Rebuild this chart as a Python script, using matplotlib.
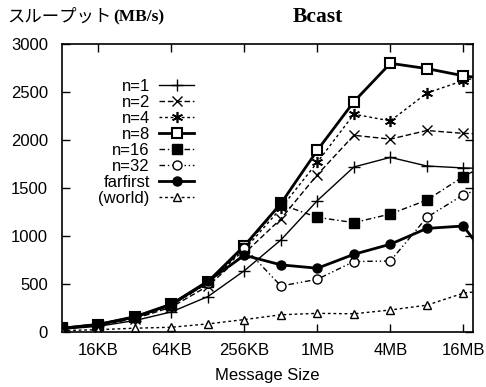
import numpy as np
import matplotlib
matplotlib.use('Agg')
import matplotlib.pyplot as plt

# message sizes in KB (last point lies just past the right edge)
sizes_kb = [8, 16, 32, 64, 128, 256, 512, 1024, 2048, 4096, 8192, 16384, 32768]

n1 = [30, 60, 120, 210, 370, 640, 960, 1370, 1720, 1820, 1730, 1710, 1700]
n2 = [33, 70, 140, 260, 480, 820, 1180, 1640, 2050, 2010, 2100, 2070, 2060]
n4 = [35, 75, 150, 280, 510, 860, 1290, 1770, 2270, 2200, 2490, 2620, 2700]
n8 = [38, 78, 155, 290, 525, 900, 1340, 1895, 2400, 2800, 2745, 2670, 2620]
n16 = [38, 78, 155, 285, 520, 880, 1330, 1195, 1140, 1230, 1375, 1620, 1820]
n32 = [36, 75, 150, 280, 510, 880, 480, 550, 735, 740, 1195, 1430, 1560]
farfirst = [40, 80, 160, 290, 530, 800, 700, 665, 810, 915, 1080, 1105, 600]
world = [15, 25, 40, 50, 85, 130, 180, 195, 190, 230, 280, 405, 450]

tick_kb = [16, 64, 256, 1024, 4096, 16384]
tick_labels = ['16KB', '64KB', '256KB', '1MB', '4MB', '16MB']

plt.rcParams['font.family'] = ['Liberation Sans', 'DejaVu Sans']

fig = plt.figure(figsize=(4.86, 3.87), dpi=100)
ax = fig.add_axes([0.1276, 0.142, 0.845, 0.744])

series = [
    ('n=1', n1, dict(ls='-', lw=1.0, marker='+', ms=8, mew=1.0, mfc='none')),
    ('n=2', n2, dict(ls=(0, (4, 2)), lw=1.0, marker='x', ms=7, mew=1.0, mfc='none')),
    ('n=4', n4, dict(ls=(0, (2, 2)), lw=1.0, marker=(6, 2, 0), ms=8, mew=1.2, mfc='none')),
    ('n=8', n8, dict(ls='-', lw=2.0, marker='s', ms=6.5, mew=1.5, mfc='white')),
    ('n=16', n16, dict(ls=(0, (4, 2, 1, 2)), lw=1.0, marker='s', ms=6.5, mew=1.0, mfc='black')),
    ('n=32', n32, dict(ls=(0, (4, 2, 1, 2, 1, 2)), lw=1.0, marker='o', ms=6.5, mew=1.0, mfc='white')),
    ('farfirst', farfirst, dict(ls='-', lw=2.0, marker='o', ms=6.5, mew=1.0, mfc='black')),
    ('(world)', world, dict(ls=(0, (2, 2)), lw=1.0, marker='^', ms=6, mew=1.0, mfc='white')),
]
for label, vals, st in series:
    ax.plot(sizes_kb, vals, color='black', mec='black', label=label, **st)

ax.set_xscale('log', base=2)
ax.set_xlim(8, 16384 * 2 ** 0.256)
ax.set_ylim(0, 3000)
ax.set_xticks(tick_kb)
ax.set_xticklabels(tick_labels)
ax.set_yticks(np.arange(0, 3001, 500))
ax.minorticks_off()
ax.tick_params(direction='in', length=6, width=1, top=True, right=True, labelsize=12)
ax.tick_params(axis='y', pad=10)
ax.tick_params(axis='x', pad=8)
for sp in ax.spines.values():
    sp.set_linewidth(1.2)

ax.set_xlabel('Message Size', fontsize=12, labelpad=7)

# y-axis title at the top left, Japanese part in normal weight
fig.text(0.014, 0.956, 'スループット', fontsize=12.5,
         family=['Noto Sans CJK JP', 'DejaVu Sans'], va='center', ha='left')
fig.text(0.232, 0.956, '(MB/s)', fontsize=12.5, fontweight='bold',
         family=['Liberation Serif'], va='center', ha='left')
fig.text(0.654, 0.956, 'Bcast', fontsize=15.5, fontweight='bold',
         family=['Liberation Serif'], va='center', ha='center')

ax.legend(loc='upper right', bbox_to_anchor=(194 / 486, 1 - 79 / 387),
          bbox_transform=fig.transFigure, frameon=False, markerfirst=False,
          fontsize=12, labelspacing=0.06, handlelength=2.1, handletextpad=0.55,
          borderpad=0, borderaxespad=0)

fig.savefig('out.png', dpi=100)
